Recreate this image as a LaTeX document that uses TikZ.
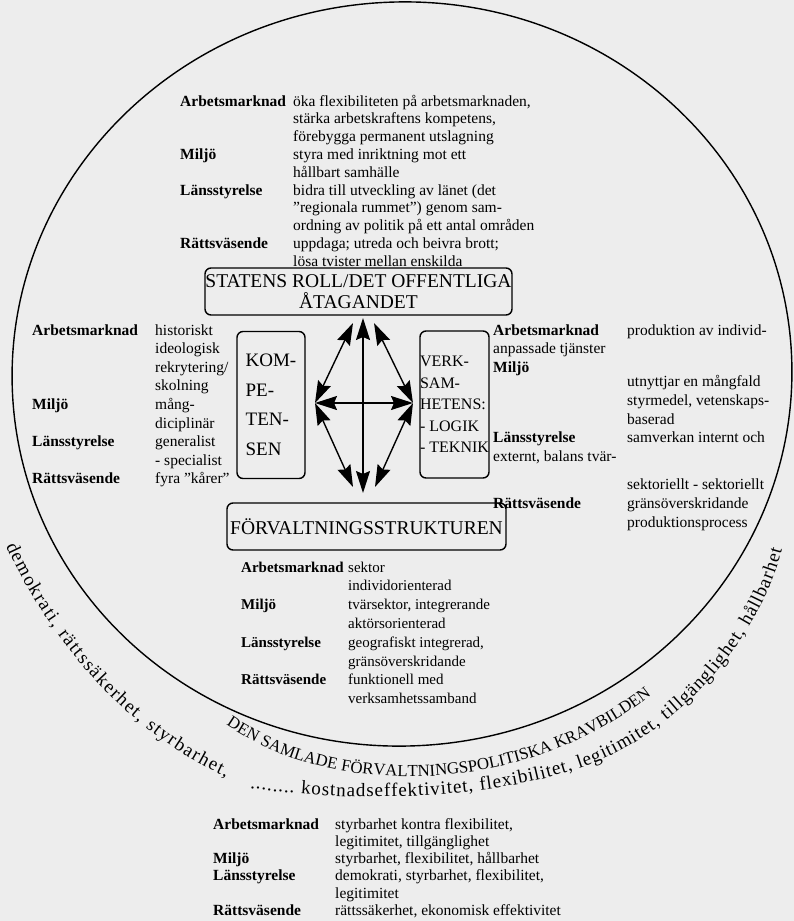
\documentclass[tikz,border=0pt]{standalone}
\usepackage{fontspec}
\setmainfont{Liberation Serif}
\usetikzlibrary{arrows.meta,decorations.text}

\tikzset{
  krav/.style={anchor=base west,inner sep=0pt,font=\fontsize{15.5}{18.6}\selectfont},
  ruta/.style={draw,rounded corners=6pt,line width=1.4pt,inner sep=0pt,align=center,font=\fontsize{19.5}{21}\selectfont},
  pil/.style={<->,line width=1.4pt}
}
\newcommand{\omr}[1]{\textbf{#1}}

\begin{document}
\begin{tikzpicture}[x=1pt,y=-1pt,>={Stealth[length=22pt,width=14pt,inset=3pt]}]
  \fill[black!7] (0,0) rectangle (794,921);
  \useasboundingbox (0,0) rectangle (794,921);
  % the ring
  \draw[line width=1.4pt,rotate around={4:(402,374)}] (402,374) ellipse[x radius=390, y radius=372];
  % texts round the ring
  \path[decorate,decoration={text along path,text align=center,
    text={|\fontsize{16.8}{16.8}\selectfont|DEN SAMLADE FÖRVALTNINGSPOLITISKA KRAVBILDEN}}]
    (222,722) .. controls (330,800) and (524,798) .. (655,692);
  \path[decorate,decoration={text along path,text align=fit to path,
    text={|\fontsize{19}{19}\selectfont|demokrati, rättssäkerhet, styrbarhet,}}]
    (6,546) .. controls (54,650) and (135,736) .. (226,777);
  \path[decorate,decoration={text along path,text align=fit to path,
    text={|\fontsize{19}{19}\selectfont|........ kostnadseffektivitet, flexibilitet, legitimitet, tillgänglighet, hållbarhet}}]
    (250,788) .. controls (330,800) and (470,805) .. (580,768) .. controls (670,738) and (755,650) .. (782,550);

  % the four boxes
  \node[ruta,minimum width=307pt,minimum height=47pt] (stat) at (358.5,291.5) {STATENS ROLL/DET OFFENTLIGA\\ÅTAGANDET};
  \node[ruta,minimum width=279pt,minimum height=47pt] (forv) at (366.5,526.5) {FÖRVALTNINGSSTRUKTUREN};
  \node[ruta,minimum width=68pt,minimum height=147pt,align=left,font=\fontsize{19}{29.5}\selectfont] (komp) at (271,405) {KOM-\\PE-\\TEN-\\SEN};
  \node[ruta,minimum width=69pt,minimum height=147pt,align=left,font=\fontsize{16}{21.5}\selectfont] (verk) at (454.5,404.5) {VERK-\\SAM-\\HETENS:\\- LOGIK\\- TEKNIK};

  % arrows between them
  \coordinate (n) at (363,318);
  \coordinate (s) at (363,493);
  \coordinate (w) at (315,403);
  \coordinate (e) at (413,403);
  \coordinate (nw) at (353,323);
  \coordinate (ne) at (374,323);
  \coordinate (sw) at (353,487);
  \coordinate (se) at (375,487);
  \draw[pil] (n) -- (s);
  \draw[pil] (w) -- (e);
  \draw[pil] (w) -- (nw);
  \draw[pil] (w) -- (sw);
  \draw[pil] (e) -- (ne);
  \draw[pil] (e) -- (se);

  % texts per sector
  \node[krav,font=\fontsize{15.5}{17.8}\selectfont] (statkrav) at (180,106) {\begin{tabular}[t]{@{}p{113pt}@{}l@{}}
    \omr{Arbetsmarknad} & öka flexibiliteten på arbetsmarknaden,\\
     & stärka arbetskraftens kompetens,\\
     & förebygga permanent utslagning\\
    \omr{Miljö} & styra med inriktning mot ett\\
     & hållbart samhälle\\
    \omr{Länsstyrelse} & bidra till utveckling av länet (det\\
     & ”regionala rummet”) genom sam-\\
     & ordning av politik på ett antal områden\\
    \omr{Rättsväsende} & uppdaga; utreda och beivra brott;\\
     & lösa tvister mellan enskilda
  \end{tabular}};
  \node[krav] (kompkrav) at (32,335) {\begin{tabular}[t]{@{}p{123pt}@{}l@{}}
    \omr{Arbetsmarknad} & historiskt\\
     & ideologisk\\
     & rekrytering/\\
     & skolning\\
    \omr{Miljö} & mång-\\
     & diciplinär\\
    \omr{Länsstyrelse} & generalist\\
     & - specialist\\
    \omr{Rättsväsende} & fyra ”kårer”
  \end{tabular}};
  \node[krav] (verkkrav) at (493,335) {\begin{tabular}[t]{@{}p{134pt}@{}l@{}}
    \omr{Arbetsmarknad} & produktion av individ-\\
    \multicolumn{2}{@{}l@{}}{anpassade tjänster}\\
    \omr{Miljö} & \\[-4pt]
     & utnyttjar en mångfald\\
     & styrmedel, vetenskaps-\\
     & baserad\\
    \omr{Länsstyrelse} & samverkan internt och\\
    \multicolumn{2}{@{}l@{}}{externt, balans tvär-}\\[10pt]
     & sektoriellt - sektoriellt\\
    \omr{Rättsväsende} & gränsöverskridande\\
     & produktionsprocess
  \end{tabular}};
  \node[krav,font=\fontsize{15}{18.8}\selectfont] (forvkrav) at (241,572) {\begin{tabular}[t]{@{}p{107pt}@{}l@{}}
    \omr{Arbetsmarknad} & sektor\\
     & individorienterad\\
    \omr{Miljö} & tvärsektor, integrerande\\
     & aktörsorienterad\\
    \omr{Länsstyrelse} & geografiskt integrerad,\\
     & gränsöverskridande\\
    \omr{Rättsväsende} & funktionell med\\
     & verksamhetssamband
  \end{tabular}};
  \node[krav,font=\fontsize{15.5}{17.3}\selectfont] (helkrav) at (213,829) {\begin{tabular}[t]{@{}p{122pt}@{}l@{}}
    \omr{Arbetsmarknad} & styrbarhet kontra flexibilitet,\\
     & legitimitet, tillgänglighet\\
    \omr{Miljö} & styrbarhet, flexibilitet, hållbarhet\\
    \omr{Länsstyrelse} & demokrati, styrbarhet, flexibilitet,\\
     & legitimitet\\
    \omr{Rättsväsende} & rättssäkerhet, ekonomisk effektivitet
  \end{tabular}};
\end{tikzpicture}
\end{document}
